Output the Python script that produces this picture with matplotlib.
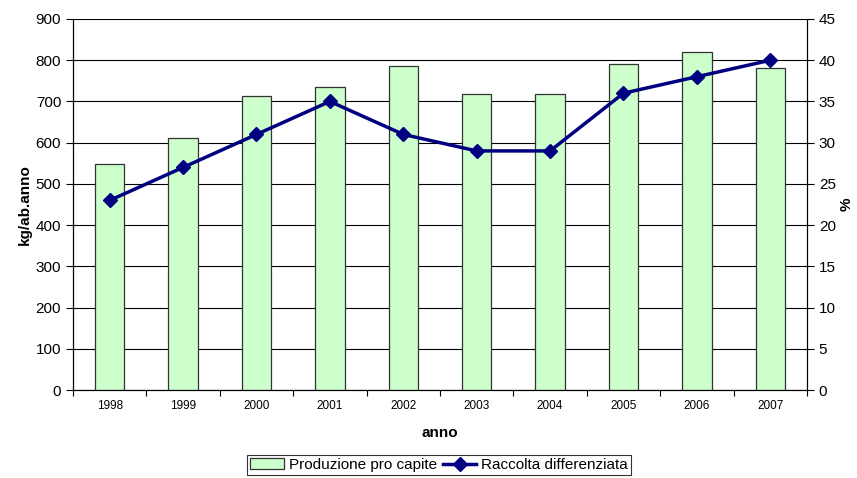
import matplotlib
matplotlib.use("Agg")
import matplotlib.pyplot as plt
import numpy as np
from matplotlib.ticker import FixedLocator, NullFormatter

years = ["1998", "1999", "2000", "2001", "2002", "2003", "2004", "2005", "2006", "2007"]
produzione = [548, 612, 714, 735, 786, 718, 719, 792, 820, 780]
raccolta = [23, 27, 31, 35, 31, 29, 29, 36, 38, 40]

plt.rcParams['font.family'] = ['Liberation Sans', 'DejaVu Sans']

fig = plt.figure(figsize=(8.57, 4.78), dpi=100)
ax = fig.add_axes([73/857, 1-390/478, (807-73)/857, (390-19)/478])
ax2 = ax.twinx()

x = np.arange(len(years))
bars = ax.bar(x, produzione, width=0.4, color="#CCFFCC", edgecolor="#333333", linewidth=0.9, zorder=3,
              label="Produzione pro capite")
ax.set_xlim(-0.5, len(years)-0.5)
ax.set_ylim(0, 900)
ax.set_yticks(range(0, 901, 100))
ax.yaxis.grid(True, color="black", linewidth=0.8, zorder=0)
ax.set_axisbelow(True)
ax.set_xticks(x)
ax.set_xticklabels(years, fontsize=8.5)
ax.tick_params(axis='x', which='major', length=0, pad=7)
ax.xaxis.set_minor_locator(FixedLocator(np.arange(-0.5, len(years), 1.0)))
ax.xaxis.set_minor_formatter(NullFormatter())
ax.tick_params(axis='x', which='minor', length=4, width=0.8)
ax.tick_params(axis='y', labelsize=11, length=5, width=0.8)
ax.spines['top'].set_visible(False)
for s in ['left', 'bottom', 'right']:
    ax.spines[s].set_linewidth(0.8)

ax2.plot(x, raccolta, color="#000080", linewidth=2.5, marker="D", markersize=7, zorder=5,
         label="Raccolta differenziata")
ax2.set_ylim(0, 45)
ax2.set_yticks(range(0, 46, 5))
ax2.tick_params(axis='y', labelsize=11, length=5, width=0.8)
ax2.spines['top'].set_visible(False)
ax2.spines['right'].set_linewidth(0.8)

ax.set_ylabel("kg/ab.anno", fontsize=11, fontweight='bold', labelpad=3)
ax2.set_ylabel("%", fontsize=11, fontweight='bold', labelpad=3)
ax.set_xlabel("anno", fontsize=11, fontweight='bold', labelpad=10)

h1, l1 = ax.get_legend_handles_labels()
h2, l2 = ax2.get_legend_handles_labels()
leg = fig.legend(h1 + h2, l1 + l2, loc='upper center', bbox_to_anchor=(439/857, 1-455/478), ncol=2,
                 fontsize=11, frameon=True, fancybox=False, edgecolor="black", borderpad=0.2,
                 handlelength=2.2, handletextpad=0.3, columnspacing=0.4, borderaxespad=0)
leg.get_frame().set_linewidth(0.8)

fig.savefig("out.png", dpi=100)
